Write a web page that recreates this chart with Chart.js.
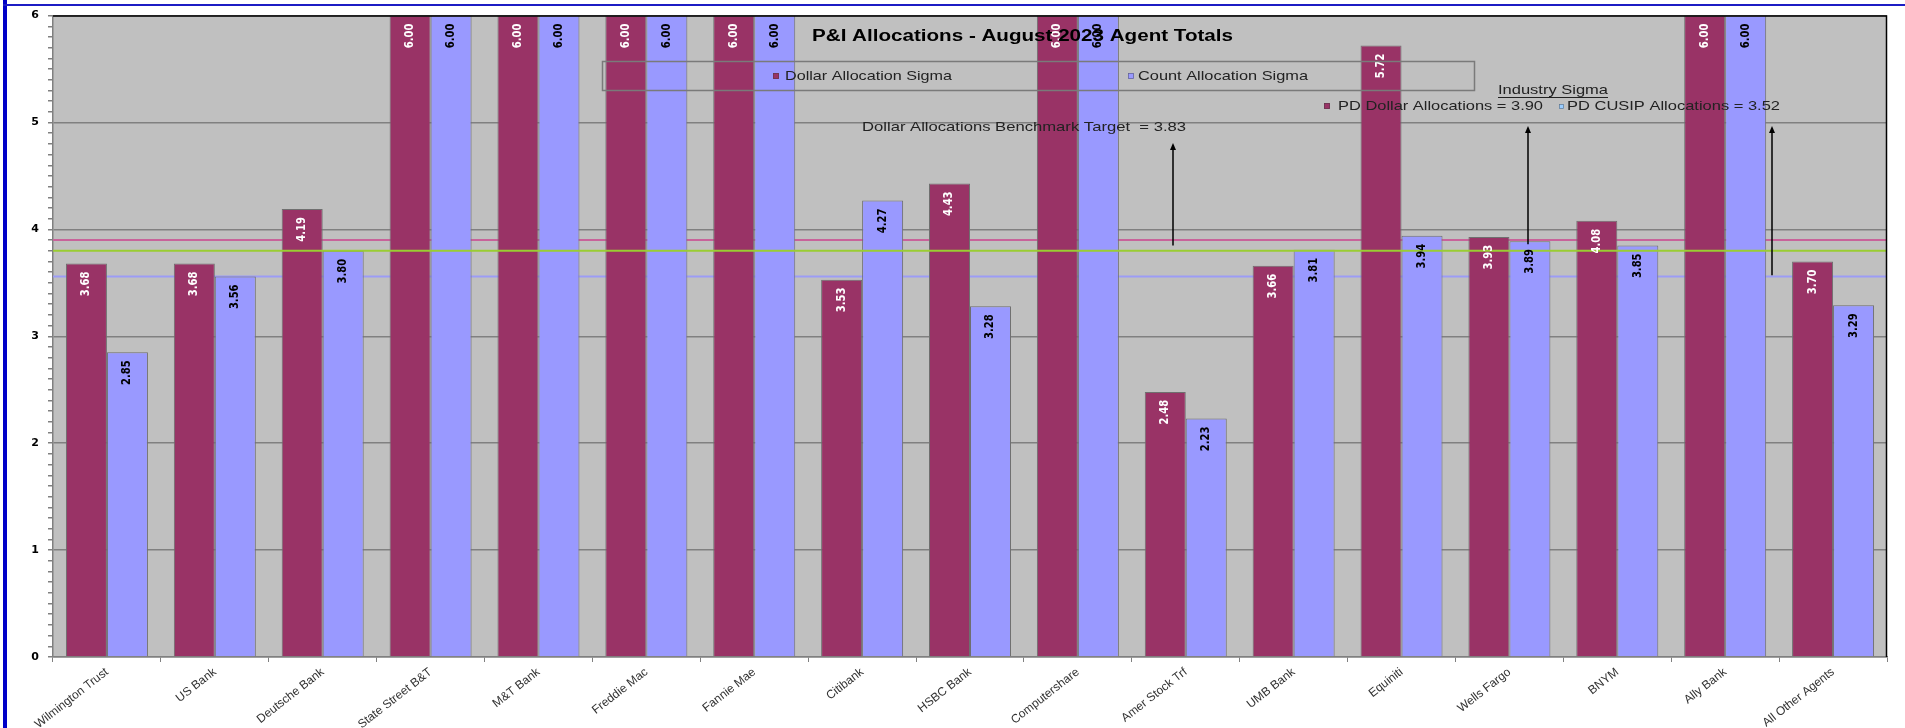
<!DOCTYPE html>
<html><head><meta charset="utf-8">
<script src="https://cdn.jsdelivr.net/npm/chart.js@4/dist/chart.umd.min.js"></script>
<style>
html,body{margin:0;padding:0;background:#fff;overflow:hidden}
#wrap{position:relative;width:1905px;height:728px}
canvas{position:absolute;left:0;top:0}
.fl{position:absolute;left:3px;top:0;width:4px;height:728px;background:#0000C8}
.ft{position:absolute;left:3px;top:4px;width:1902px;height:2px;background:#1C1CC4}
</style></head><body>
<div id="wrap"><canvas id="c" width="1905" height="728"></canvas><div class="fl"></div><div class="ft"></div></div>
<script>
// ---------- data ----------
const categories = ['Wilmington Trust','US Bank','Deutsche Bank','State Street B&T','M&T Bank','Freddie Mac','Fannie Mae','Citibank','HSBC Bank','Computershare','Amer Stock Trf','UMB Bank','Equiniti','Wells Fargo','BNYM','Ally Bank','All Other Agents'];
const dollarSigma = [3.68,3.68,4.19,6.00,6.00,6.00,6.00,3.53,4.43,6.00,2.48,3.66,5.72,3.93,4.08,6.00,3.70];
const countSigma  = [2.85,3.56,3.80,6.00,6.00,6.00,6.00,4.27,3.28,6.00,2.23,3.81,3.94,3.89,3.85,6.00,3.29];
const seriesNames = ['Dollar Allocation Sigma','Count Allocation Sigma'];
const yRange = [0, 6];
const yMajorStep = 1;
const yMinorStep = 0.1;
const chartTitle = 'P&I Allocations - August 2023 Agent Totals';
// reference lines: industry dollar sigma, benchmark target, industry CUSIP sigma (as drawn)
const refLineValues = [3.90, 3.80, 3.56];
const refTexts = ['PD Dollar Allocations = 3.90', 'Dollar Allocations Benchmark Target  = 3.83', 'PD CUSIP Allocations = 3.52'];
const industryHeading = 'Industry Sigma';
// arrows: bottom values on the y scale
const arrowBottomValues = [3.85, 3.86, 3.57];

// ---------- styles / positions ----------
const C = {
  red:'#993366', blue:'#9999FF', plotBg:'#C0C0C0', grid:'#808080',
  redLine:'#C8639A', blueLine:'#9C9CF6', greenLine:'#9ACD32', text:'#222'
};
const isInt = v => Math.abs(v - Math.round(v)) < 1e-6;

function fitText(ctx, text, left, y, width, font, color){
  ctx.save();
  ctx.font = font; ctx.fillStyle = color; ctx.textBaseline = 'middle'; ctx.textAlign = 'left';
  const w = ctx.measureText(text).width;
  ctx.translate(left, y); ctx.scale(width / w, 1);
  ctx.fillText(text, 0, 0);
  ctx.restore();
}
function hline(chart, v, color, w){
  const {ctx, chartArea:a, scales:{y}} = chart;
  const py = y.getPixelForValue(v);
  ctx.save(); ctx.strokeStyle = color; ctx.lineWidth = w;
  ctx.beginPath(); ctx.moveTo(a.left, py); ctx.lineTo(a.right, py); ctx.stroke(); ctx.restore();
}
function arrow(ctx, x, yb, yt){
  ctx.save(); ctx.strokeStyle = '#000'; ctx.fillStyle = '#000'; ctx.lineWidth = 1.5;
  ctx.beginPath(); ctx.moveTo(x, yb); ctx.lineTo(x, yt + 5); ctx.stroke();
  ctx.beginPath(); ctx.moveTo(x, yt); ctx.lineTo(x - 3, yt + 7); ctx.lineTo(x + 3, yt + 7); ctx.closePath(); ctx.fill();
  ctx.restore();
}
function marker(ctx, x, y, s, fill){
  ctx.save(); ctx.fillStyle = fill; ctx.fillRect(x, y, s, s);
  ctx.strokeStyle = 'rgba(60,60,60,0.6)'; ctx.lineWidth = 0.7; ctx.strokeRect(x + 0.5, y + 0.5, s - 1, s - 1);
  ctx.restore();
}

const decor = {
  id:'decor',
  beforeDraw(c){
    const {ctx, chartArea:a} = c;
    ctx.save(); ctx.fillStyle = C.plotBg; ctx.fillRect(a.left, a.top, a.right - a.left, a.bottom - a.top); ctx.restore();
  },
  beforeDatasetsDraw(c){
    hline(c, refLineValues[0], C.redLine, 2);
    hline(c, refLineValues[2], C.blueLine, 2);
  },
  afterDatasetsDraw(c){
    const {ctx, chartArea:a, scales:{y}} = c;
    hline(c, refLineValues[1], C.greenLine, 2);
    // value labels
    c.data.datasets.forEach((ds, di) => {
      const meta = c.getDatasetMeta(di);
      meta.data.forEach((el, i) => {
        ctx.save();
        ctx.translate(el.x, el.y + 8);
        ctx.rotate(-Math.PI / 2);
        ctx.scale(1, 1.15);
        ctx.font = 'bold 10px "DejaVu Sans"';
        ctx.textAlign = 'right'; ctx.textBaseline = 'middle';
        ctx.fillStyle = ds.labelColor;
        ctx.fillText(ds.data[i].toFixed(2), 0, 0);
        ctx.restore();
      });
    });
    // top & right plot border
    ctx.save(); ctx.strokeStyle = '#000'; ctx.lineWidth = 1.5;
    ctx.beginPath(); ctx.moveTo(a.left, a.top + 0.5); ctx.lineTo(a.right - 0.5, a.top + 0.5); ctx.lineTo(a.right - 0.5, a.bottom); ctx.stroke();
    ctx.restore();
    // title
    fitText(ctx, chartTitle, 812, 37, 421, 'bold 16px "Liberation Sans"', '#000');
    // legend box
    ctx.save(); ctx.strokeStyle = '#7a7a7a'; ctx.lineWidth = 1.5; ctx.strokeRect(602.5, 61.5, 872, 29); ctx.restore();
    const ds = c.data.datasets;
    marker(ctx, 773, 73, 6, ds[0].backgroundColor);
    fitText(ctx, ds[0].label, 785, 76, 167, '13px "Liberation Sans"', C.text);
    marker(ctx, 1128, 73, 6, ds[1].backgroundColor);
    fitText(ctx, ds[1].label, 1138, 76, 170, '13px "Liberation Sans"', C.text);
    // industry sigma block
    fitText(ctx, industryHeading, 1498, 90, 110, '13px "Liberation Sans"', C.text);
    ctx.save(); ctx.strokeStyle = C.text; ctx.lineWidth = 1; ctx.beginPath(); ctx.moveTo(1498, 97.5); ctx.lineTo(1608, 97.5); ctx.stroke(); ctx.restore();
    marker(ctx, 1324, 103, 6, C.red);
    fitText(ctx, refTexts[0], 1338, 106, 205, '13px "Liberation Sans"', C.text);
    marker(ctx, 1559, 104, 5, '#99CCFF');
    fitText(ctx, refTexts[2], 1567, 106, 213, '13px "Liberation Sans"', C.text);
    // benchmark text
    fitText(ctx, refTexts[1], 862, 127, 324, '13px "Liberation Sans"', C.text);
    // arrows
    arrow(ctx, 1173, y.getPixelForValue(arrowBottomValues[0]), 143);
    arrow(ctx, 1528, y.getPixelForValue(arrowBottomValues[1]), 126);
    arrow(ctx, 1772, y.getPixelForValue(arrowBottomValues[2]), 126);
  }
};

new Chart(document.getElementById('c'), {
  type:'bar',
  data:{
    labels:categories,
    datasets:[
      {label:seriesNames[0], data:dollarSigma, backgroundColor:C.red, borderColor:'#6f6f6f', borderWidth:1, labelColor:'#fff'},
      {label:seriesNames[1], data:countSigma, backgroundColor:C.blue, borderColor:'#6f6f6f', borderWidth:1, labelColor:'#000'}
    ]
  },
  options:{
    responsive:false, animation:false, devicePixelRatio:1,
    layout:{padding:{top:13, right:18, left:0, bottom:0}},
    datasets:{bar:{categoryPercentage:0.76, barPercentage:1}},
    plugins:{legend:{display:false}, title:{display:false}, tooltip:{enabled:false}},
    scales:{
      x:{
        offset:true,
        grid:{display:true, drawOnChartArea:false, offset:true, tickLength:5, tickColor:C.grid},
        border:{color:C.grid, width:1.5},
        ticks:{autoSkip:false, minRotation:38, maxRotation:38, padding:3, color:'#333', font:{family:'Liberation Sans', size:12}},
        afterFit:s => { s.height = 71; }
      },
      y:{
        min:yRange[0], max:yRange[1],
        grid:{color:ctx => (ctx.tick && isInt(ctx.tick.value / yMajorStep)) ? C.grid : 'rgba(0,0,0,0)', lineWidth:1.5, tickColor:C.grid, tickLength:5},
        border:{color:C.grid, width:1.5},
        ticks:{stepSize:yMinorStep, autoSkip:false, padding:9, color:'#000',
          font:{family:'DejaVu Sans', weight:'bold', size:11},
          callback:v => isInt(v / yMajorStep) ? String(Math.round(v)) : ''},
        afterFit:s => { s.width = 53; }
      }
    }
  },
  plugins:[decor]
});
</script>
</body></html>
